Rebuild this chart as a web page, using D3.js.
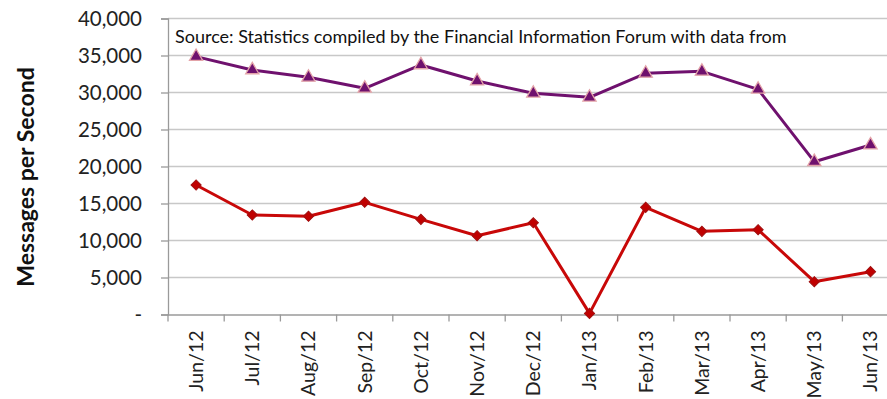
<!DOCTYPE html>
<html>
<head>
<meta charset="utf-8">
<script src="https://cdn.jsdelivr.net/npm/d3@7"></script>
<style>
  html, body { margin: 0; padding: 0; background: #fff; }
  svg { display: block; font-family: Lato, "Open Sans", sans-serif; }
</style>
</head>
<body>
<svg id="chart" width="887" height="399"></svg>
<script>
// Monthly message rates
const months = ["Jun/12","Jul/12","Aug/12","Sep/12","Oct/12","Nov/12","Dec/12",
                "Jan/13","Feb/13","Mar/13","Apr/13","May/13","Jun/13"];
const peakRates = [34850, 33050, 32050, 30570, 33720, 31550, 29890,
                   29350, 32590, 32860, 30430, 20650, 22900];
const lowRates  = [17500, 13450, 13270, 15160, 12860, 10650, 12400,
                   150, 14480, 11240, 11460, 4430, 5790];
const yTicks = [0, 5000, 10000, 15000, 20000, 25000, 30000, 35000, 40000];
const sourceNote = "Source: Statistics compiled by the Financial Information Forum with data from";

const svg = d3.select("#chart");
const plot = { left: 168, top: 18.5, bottom: 314.5, bandWidth: 56.2 };

const x = d3.scaleBand()
  .domain(months)
  .range([plot.left, plot.left + plot.bandWidth * months.length]);
const y = d3.scaleLinear().domain([0, 40000]).range([plot.bottom, plot.top]);

// Horizontal gridlines
svg.append("g")
  .selectAll("line")
  .data(yTicks.filter(d => d > 0))
  .join("line")
  .attr("x1", plot.left).attr("x2", 887)
  .attr("y1", d => y(d)).attr("y2", d => y(d))
  .attr("stroke", "#c8c8c8").attr("stroke-width", 1.3);

// Y axis
const fmt = d => d === 0 ? "-" : d3.format(",")(d);
const yAxis = svg.append("g")
  .attr("transform", `translate(${plot.left},0)`)
  .call(d3.axisLeft(y).tickValues(yTicks).tickFormat(fmt).tickSize(7).tickPadding(19));
yAxis.select(".domain").attr("stroke", "#9a9a9a").attr("stroke-width", 1.3);
yAxis.selectAll(".tick line").attr("stroke", "#9a9a9a").attr("stroke-width", 1.3);
yAxis.selectAll(".tick text")
  .attr("fill", "#222").style("font-size", "20.5px")
  .style("font-family", "Lato, sans-serif");

// X axis
const xAxis = svg.append("g")
  .attr("transform", `translate(0,${plot.bottom})`)
  .call(d3.axisBottom(x).tickSizeInner(0).tickSizeOuter(0).tickPadding(0));
xAxis.select(".domain").attr("stroke", "#9a9a9a").attr("stroke-width", 1.3);
xAxis.selectAll(".tick text")
  .attr("fill", "#222").style("font-size", "19.5px")
  .style("font-family", "Lato, sans-serif")
  .attr("text-anchor", "end")
  .attr("transform", "rotate(-90)")
  .attr("x", -16).attr("y", 0).attr("dy", "0.35em");
// Category boundary ticks
xAxis.append("g")
  .selectAll("line")
  .data(months)
  .join("line")
  .attr("x1", d => x(d)).attr("x2", d => x(d))
  .attr("y1", 0).attr("y2", 7)
  .attr("stroke", "#9a9a9a").attr("stroke-width", 1.3);

// Y axis title
svg.append("text")
  .attr("transform", "translate(34,177) rotate(-90)")
  .attr("text-anchor", "middle")
  .style("font-size", "23px").style("font-weight", "bold")
  .attr("fill", "#111")
  .text("Messages per Second");

// Source note
svg.append("text")
  .attr("x", 175).attr("y", 43)
  .style("font-size", "18px").attr("fill", "#111")
  .text(sourceNote);

const line = d3.line()
  .x((d, i) => x(months[i]) + x.bandwidth() / 2)
  .y(d => y(d));

// Upper series: purple line with triangle markers
svg.append("path")
  .datum(peakRates)
  .attr("d", line)
  .attr("fill", "none").attr("stroke", "#6f116e").attr("stroke-width", 3)
  .attr("stroke-linejoin", "round");
svg.append("g")
  .selectAll("path")
  .data(peakRates)
  .join("path")
  .attr("transform", (d, i) => `translate(${x(months[i]) + x.bandwidth() / 2},${y(d)})`)
  .attr("d", d3.symbol(d3.symbolTriangle, 75))
  .attr("fill", "#6f116e").attr("stroke", "#e3a3a8").attr("stroke-width", 1.3);

// Lower series: red line with diamond markers
svg.append("path")
  .datum(lowRates)
  .attr("d", line)
  .attr("fill", "none").attr("stroke", "#c80808").attr("stroke-width", 3)
  .attr("stroke-linejoin", "round");
svg.append("g")
  .selectAll("path")
  .data(lowRates)
  .join("path")
  .attr("transform", (d, i) => `translate(${x(months[i]) + x.bandwidth() / 2},${y(d)}) rotate(45)`)
  .attr("d", d3.symbol(d3.symbolSquare, 52))
  .attr("fill", "#c00000").attr("stroke", "#a01010").attr("stroke-width", 1);
</script>
</body>
</html>
